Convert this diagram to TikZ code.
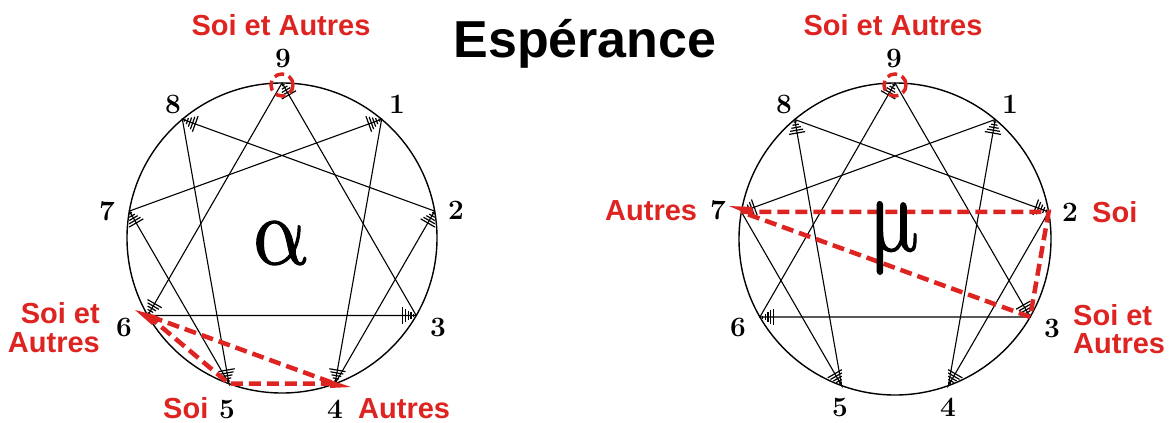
\documentclass[tikz,border=0pt]{standalone}
\usepackage{fontspec}
\newfontfamily\labfont{Liberation Sans}
\newfontfamily\gkfont{latinmodern-math.otf}[FakeBold=1.2]
\usetikzlibrary{calc}
\definecolor{myred}{RGB}{221,36,33}
\newcommand\hatchmark[2]{%
  \foreach \d in {2.5,5.3,8.1,10.9,13.7}{%
    \pgfmathsetmacro\h{0.6*\d}%
    \draw[hatchline] ($(#1)!\d pt!(#2)!\h pt!90:(#2)$) -- ($(#1)!\d pt!(#2)!\h pt!-90:(#2)$);}}
\begin{document}
\begin{tikzpicture}[x=1pt,y=-1pt,
  ring/.style={line width=1.4pt},
  chord/.style={line width=1.1pt},
  hatchline/.style={line width=1.2pt},
  reddash/.style={myred,line width=4.5pt,dash pattern=on 12pt off 6pt},
  redring/.style={myred,line width=3.5pt,dash pattern=on 10pt off 5pt},
  digit/.style={font=\fontsize{28}{28}\selectfont\bfseries},
  redlab/.style={font=\labfont\bfseries\fontsize{29}{30}\selectfont,text=myred,inner sep=0pt},
  greek/.style={font=\gkfont\fontsize{85}{85}\selectfont,inner sep=0pt}]
\useasboundingbox (0,0) rectangle (1173,423);
% centres
\coordinate (LC) at (282,238);
\coordinate (RC) at (895,239);
\foreach \i in {1,...,9}{
  \coordinate (L\i) at ($(LC)+({90-40*\i}:155pt)$);
  \coordinate (R\i) at ($(RC)+({90-40*\i}:156pt)$);
}
% circles
\draw[ring] (LC) circle[radius=155pt];
\draw[ring] (RC) circle[radius=156pt];
% chords
\draw[chord] (L9)--(L3)--(L6)--cycle;
\draw[chord] (L1)--(L4)--(L2)--(L8)--(L5)--(L7)--cycle;
\draw[chord] (R9)--(R3)--(R6)--cycle;
\draw[chord] (R1)--(R4)--(R2)--(R8)--(R5)--(R7)--cycle;
% hatch marks left
\hatchmark{L9}{L3}
\hatchmark{L8}{L2}
\hatchmark{L1}{L7}
\hatchmark{L7}{L5}
\hatchmark{L2}{L4}
\hatchmark{L3}{L6}
\hatchmark{L6}{L9}
\hatchmark{L5}{L8}
\hatchmark{L4}{L1}
% hatch marks right
\hatchmark{R9}{R6}
\hatchmark{R8}{R5}
\hatchmark{R1}{R4}
\hatchmark{R7}{R1}
\hatchmark{R6}{R3}
\hatchmark{R5}{R7}
\hatchmark{R4}{R2}
\hatchmark{R3}{R9}
\hatchmark{R2}{R8}
% red dashed
\draw[reddash] (L6)--(L5)--(L4)--cycle;
\draw[reddash] (R7)--(R2)--(R3)--cycle;
\draw[redring] (L9) ++(0,2) circle[radius=11pt];
\draw[redring] (R9) ++(0,2) circle[radius=11pt];
\fill[myred] (135,310) -- (158,316) -- (152,325) -- cycle;
\fill[myred] (351,387) -- (330,380) -- (330,388) -- cycle;
\fill[myred] (729,206) -- (752,207) -- (752,216) -- cycle;
% digits
\node[digit] (dL9) at (283,58) {9};
\node[digit] (dL8) at (173,104) {8};
\node[digit] (dL1) at (397,104) {1};
\node[digit] (dL7) at (107,211) {7};
\node[digit] (dL2) at (456,210) {2};
\node[digit] (dL6) at (124,327) {6};
\node[digit] (dL3) at (438,327) {3};
\node[digit] (dL5) at (227,409) {5};
\node[digit] (dL4) at (335,409) {4};
\node[digit] (dR9) at (894,58) {9};
\node[digit] (dR8) at (784,104) {8};
\node[digit] (dR1) at (1010,104) {1};
\node[digit] (dR7) at (718,210) {7};
\node[digit] (dR2) at (1070,212) {2};
\node[digit] (dR6) at (738,327) {6};
\node[digit] (dR3) at (1052,328) {3};
\node[digit] (dR5) at (840,407) {5};
\node[digit] (dR4) at (948,407) {4};
% greek
\node[greek] (alpha) at (279,243) {\scalebox{1}[1.15]{α}};
\node[greek] (mu) at (894,238) {\scalebox{1}[1.3]{μ}};
% title
\node[font=\labfont\bfseries\fontsize{52}{52}\selectfont,anchor=base,inner sep=0pt] (title) at (585,57) {Espérance};
% red labels
\node[redlab,anchor=base] (tL) at (281,35) {Soi et Autres};
\node[redlab,anchor=base] (tR) at (893,35) {Soi et Autres};
\node[redlab,anchor=base east] (l6a) at (100,323) {Soi et};
\node[redlab,anchor=base east] (l6b) at (100,352) {Autres};
\node[redlab,anchor=base west] (l5) at (163,418) {Soi};
\node[redlab,anchor=base west] (l4) at (358,418) {Autres};
\node[redlab,anchor=base west] (r7) at (605,220) {Autres};
\node[redlab,anchor=base west] (r2) at (1092,222) {Soi};
\node[redlab,anchor=base west] (r3a) at (1073,325) {Soi et};
\node[redlab,anchor=base west] (r3b) at (1073,353) {Autres};
\end{tikzpicture}
\end{document}
